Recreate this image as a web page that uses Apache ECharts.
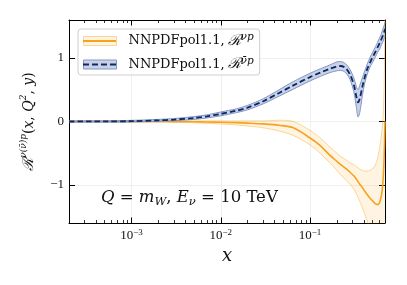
<!DOCTYPE html>
<html><head><meta charset="utf-8">
<script src="https://cdn.jsdelivr.net/npm/echarts@6/dist/echarts.min.js"></script>
<style>html,body{margin:0;padding:0;background:#fff}#c{width:407px;height:285px}</style>
</head><body><div id="c"></div>
<script>
// ---- data ----
const xValues = [0.0002, 0.0005, 0.001, 0.002, 0.003, 0.005, 0.007, 0.01, 0.015, 0.02, 0.03, 0.045, 0.065, 0.1, 0.13, 0.166, 0.2, 0.22, 0.25, 0.28, 0.31, 0.33, 0.345, 0.36, 0.385, 0.41, 0.44, 0.47, 0.5, 0.54, 0.57, 0.6, 0.63, 0.655, 0.675, 0.69];
const nuCentral = [0, 0, 0, 0, -0.002, -0.005, -0.008, -0.012, -0.018, -0.025, -0.038, -0.06, -0.10, -0.26, -0.38, -0.53, -0.63, -0.68, -0.74, -0.80, -0.86, -0.91, -0.95, -0.99, -1.04, -1.10, -1.16, -1.21, -1.25, -1.30, -1.31, -1.28, -1.16, -0.95, -0.55, 0.0];
const nuLow = [-0.005, -0.005, -0.006, -0.01, -0.013, -0.02, -0.03, -0.04, -0.055, -0.07, -0.10, -0.15, -0.22, -0.37, -0.50, -0.65, -0.77, -0.84, -0.92, -0.99, -1.07, -1.14, -1.20, -1.26, -1.36, -1.46, -1.58, -1.72, -1.85, -2.0, -2.1, -2.2, -2.3, -2.4, -2.5, -2.6];
const nuHigh = [0.005, 0.005, 0.006, 0.008, 0.01, 0.01, 0.01, 0.01, 0.01, 0.01, 0.01, 0.02, 0.0, -0.14, -0.26, -0.40, -0.50, -0.55, -0.60, -0.65, -0.68, -0.71, -0.73, -0.75, -0.77, -0.78, -0.78, -0.77, -0.75, -0.68, -0.58, -0.42, -0.2, 0.05, 0.6, 1.8];
const nubarCentral = [0.0, 0.002, 0.005, 0.018, 0.03, 0.055, 0.08, 0.12, 0.17, 0.22, 0.32, 0.45, 0.57, 0.70, 0.77, 0.83, 0.87, 0.875, 0.84, 0.74, 0.57, 0.39, 0.30, 0.36, 0.55, 0.70, 0.84, 0.93, 1.01, 1.10, 1.17, 1.23, 1.30, 1.36, 1.41, 1.46];
const nubarLow = [-0.01, -0.01, -0.008, 0.003, 0.013, 0.033, 0.055, 0.09, 0.14, 0.185, 0.28, 0.40, 0.51, 0.64, 0.71, 0.77, 0.80, 0.805, 0.77, 0.66, 0.46, 0.22, 0.07, 0.14, 0.41, 0.61, 0.76, 0.86, 0.93, 1.02, 1.09, 1.14, 1.21, 1.26, 1.31, 1.35];
const nubarHigh = [0.01, 0.012, 0.018, 0.033, 0.047, 0.077, 0.105, 0.15, 0.20, 0.255, 0.36, 0.50, 0.63, 0.76, 0.83, 0.89, 0.94, 0.945, 0.91, 0.82, 0.68, 0.55, 0.50, 0.57, 0.69, 0.80, 0.92, 1.01, 1.09, 1.18, 1.25, 1.32, 1.39, 1.46, 1.51, 1.57];
const xMajorTicks = [0.001, 0.01, 0.1];
const xMinorTicks = [0.0003, 0.0004, 0.0005, 0.0006, 0.0007, 0.0008, 0.0009,
  0.002, 0.003, 0.004, 0.005, 0.006, 0.007, 0.008, 0.009,
  0.02, 0.03, 0.04, 0.05, 0.06, 0.07, 0.08, 0.09,
  0.2, 0.3, 0.4, 0.5, 0.6];
const yTicks = [-1, 0, 1];
const xRange = [0.0002, 0.69];
const yRange = [-1.6, 1.6];
const legendNames = ['nu', 'nubar'];

// ---- style ----
const SERIF = 'DejaVu Serif';
const TICKFONT = 'Liberation Serif';
const ORANGE = '#f6a21e';
const ORANGE_FILL = 'rgba(255,170,30,0.13)';
const ORANGE_EDGE = 'rgba(250,170,40,0.45)';
const NAVY = '#0c2868';
const BLUE_FILL = 'rgba(105,130,188,0.36)';
const BLUE_EDGE = '#8497c2';
const TXT = '#111';

const pairs = ys => xValues.map((x, i) => [x, ys[i]]);
// stacked band pieces: value dimension first so that ECharts stacks along y
const stackLow = lo => xValues.map((x, i) => [lo[i], x]);
const stackDiff = (hi, lo) => xValues.map((x, i) => [hi[i] - lo[i], x]);

const legendRich = {
  t: { fontFamily: SERIF, fontSize: 13, lineHeight: 18, padding: [0, 0, 0, 7] },
  R: { fontFamily: SERIF, fontSize: 15, lineHeight: 18, fontStyle: 'italic', padding: [0, 0, 0, 3] },
  s: { fontFamily: SERIF, fontSize: 10.5, lineHeight: 18, fontStyle: 'italic', verticalAlign: 'top' }
};
const legendFormatter = name => name === 'nu'
  ? '{t|NNPDFpol1.1,}{R|ℛ}{s|νp}'
  : '{t|NNPDFpol1.1,}{R|ℛ}{s|ν̄p}';

const baseLegend = {
  orient: 'vertical', left: 78, top: 29, itemWidth: 33, itemGap: 7,
  padding: [3, 6, 3, 5], selectedMode: false, formatter: legendFormatter,
  symbolKeepAspect: false
};

const xAxisBase = {
  type: 'log', logBase: 10, min: xRange[0], max: xRange[1], gridIndex: 0,
  axisLine: { onZero: false, show: false },
  axisLabel: { show: false }, splitLine: { show: false }
};

const bandSeries = (name, lo, hi, stackId, edge, fill, z) => [
  { name, type: 'line', data: stackLow(lo), encode: { x: 1, y: 0 }, stack: stackId, stackStrategy: 'all',
    symbol: 'none', smooth: 0.3, lineStyle: { color: edge, width: 1 }, z },
  { name, type: 'line', data: stackDiff(hi, lo), encode: { x: 1, y: 0 }, stack: stackId, stackStrategy: 'all',
    symbol: 'none', smooth: 0.3, lineStyle: { color: edge, width: 1 }, areaStyle: { color: fill, opacity: 1 }, z }
];

const option = {
  animation: false,
  backgroundColor: '#fff',
  grid: { left: 69, right: 22, top: 20, bottom: 62, containLabel: false, outerBoundsMode: 'none' },
  title: {
    text: '{i|Q} = {i|m}{sub|W}, {i|E}{sub|ν} = 10 TeV',
    left: 101, top: 188, padding: 0,
    textStyle: {
      fontFamily: SERIF, fontSize: 16.5, fontWeight: 'normal', color: TXT,
      rich: {
        i: { fontFamily: SERIF, fontSize: 16.5, fontStyle: 'italic', color: TXT, lineHeight: 20 },
        sub: { fontFamily: SERIF, fontSize: 11.5, fontStyle: 'italic', color: TXT, verticalAlign: 'bottom', lineHeight: 20 }
      }
    }
  },
  legend: [
    Object.assign({}, baseLegend, {
      itemHeight: 9,
      backgroundColor: 'rgba(255,255,255,0.85)', borderColor: '#cfcfcf', borderWidth: 1, borderRadius: 3,
      textStyle: { color: TXT, fontFamily: SERIF, fontSize: 13, rich: legendRich },
      data: [
        { name: legendNames[0], icon: 'rect', itemStyle: { color: ORANGE_FILL, borderColor: ORANGE_EDGE, borderWidth: 1 } },
        { name: legendNames[1], icon: 'rect', itemStyle: { color: BLUE_FILL, borderColor: BLUE_EDGE, borderWidth: 1 } }
      ],
      z: 4
    }),
    Object.assign({}, baseLegend, {
      itemHeight: 1.8,
      backgroundColor: 'transparent', borderWidth: 0,
      textStyle: { color: 'rgba(0,0,0,0)', fontFamily: SERIF, fontSize: 13, rich: legendRich },
      data: [
        { name: legendNames[0], icon: 'rect', itemStyle: { color: ORANGE, borderWidth: 0 } },
        { name: legendNames[1], icon: 'path://M0,0H6V1H0Z M8.9,0H14.9V1H8.9Z M17.8,0H23.8V1H17.8Z M26.7,0H32.7V1H26.7Z', itemStyle: { color: NAVY, borderWidth: 0 } }
      ],
      z: 5
    })
  ],
  xAxis: [
    Object.assign({}, xAxisBase, {
      position: 'bottom',
      axisLine: { show: true, onZero: false, lineStyle: { color: '#000', width: 1 } },
      axisTick: { show: true, inside: true, length: 5.5, lineStyle: { color: '#000', width: 1 }, customValues: xMajorTicks },
      axisLabel: {
        show: true, margin: 5, customValues: xMajorTicks,
        formatter: v => '{b|10}{e|−' + Math.round(-Math.log10(v)) + '}',
        rich: {
          b: { fontFamily: TICKFONT, fontSize: 13, color: TXT, lineHeight: 16 },
          e: { fontFamily: TICKFONT, fontSize: 9, color: TXT, verticalAlign: 'top', lineHeight: 16 }
        }
      },
      splitLine: { show: true, lineStyle: { color: '#ebebeb', width: 0.8 } },
      name: 'x', nameLocation: 'middle', nameGap: 18,
      nameTextStyle: { fontFamily: SERIF, fontSize: 18, fontStyle: 'italic', color: TXT }
    }),
    Object.assign({}, xAxisBase, {
      position: 'bottom',
      axisTick: { show: true, inside: true, length: 3, lineStyle: { color: '#000', width: 0.8 }, customValues: xMinorTicks }
    }),
    Object.assign({}, xAxisBase, {
      position: 'top',
      axisLine: { show: true, onZero: false, lineStyle: { color: '#000', width: 1 } },
      axisTick: { show: true, inside: true, length: 5.5, lineStyle: { color: '#000', width: 1 }, customValues: xMajorTicks }
    }),
    Object.assign({}, xAxisBase, {
      position: 'top',
      axisTick: { show: true, inside: true, length: 3, lineStyle: { color: '#000', width: 0.8 }, customValues: xMinorTicks }
    })
  ],
  yAxis: [
    {
      type: 'value', min: yRange[0], max: yRange[1], position: 'left',
      axisLine: { show: true, onZero: false, lineStyle: { color: '#000', width: 1 } },
      axisTick: { show: true, inside: true, length: 6, lineStyle: { color: '#000', width: 1 }, customValues: yTicks },
      axisLabel: {
        show: true, margin: 5, customValues: yTicks, fontFamily: TICKFONT, fontSize: 13, color: TXT,
        formatter: v => v < 0 ? '−' + (-v) : String(v)
      },
      splitLine: { show: true, lineStyle: { color: '#ebebeb', width: 0.8 } },
      name: '{R|ℛ}{s|ν(ν̄)p}{m|(}{i|x}{m|, }{i|Q}{s|2}{m|, }{i|y}{m|)}',
      nameLocation: 'middle', nameGap: 30, nameRotate: 90,
      nameTextStyle: {
        color: TXT, fontFamily: SERIF, fontSize: 14,
        rich: {
          R: { fontFamily: SERIF, fontSize: 15, fontStyle: 'italic', color: TXT, lineHeight: 20 },
          s: { fontFamily: SERIF, fontSize: 9, fontStyle: 'italic', color: TXT, verticalAlign: 'top', lineHeight: 20 },
          m: { fontFamily: SERIF, fontSize: 14, color: TXT, lineHeight: 20 },
          i: { fontFamily: SERIF, fontSize: 14, fontStyle: 'italic', color: TXT, lineHeight: 20 }
        }
      }
    },
    {
      type: 'value', min: yRange[0], max: yRange[1], position: 'right',
      axisLine: { show: true, onZero: false, lineStyle: { color: '#000', width: 1 } },
      axisTick: { show: true, inside: true, length: 6, lineStyle: { color: '#000', width: 1 }, customValues: yTicks },
      axisLabel: { show: false }, splitLine: { show: false }
    }
  ],
  series: [].concat(
    bandSeries(legendNames[0], nuLow, nuHigh, 'nuBand', ORANGE_EDGE, ORANGE_FILL, 2),
    [{ name: legendNames[0], type: 'line', data: pairs(nuCentral), symbol: 'none', smooth: 0.3,
       lineStyle: { color: ORANGE, width: 1.6 }, z: 3 }],
    bandSeries(legendNames[1], nubarLow, nubarHigh, 'nbBand', BLUE_EDGE, BLUE_FILL, 4),
    [{ name: legendNames[1], type: 'line', data: pairs(nubarCentral), symbol: 'none', smooth: 0.3,
       lineStyle: { color: NAVY, width: 1.8, type: [5.5, 3] }, z: 5 }]
  )
};

const chart = echarts.init(document.getElementById('c'), null, { renderer: 'canvas' });
chart.setOption(option);
</script>
</body></html>
